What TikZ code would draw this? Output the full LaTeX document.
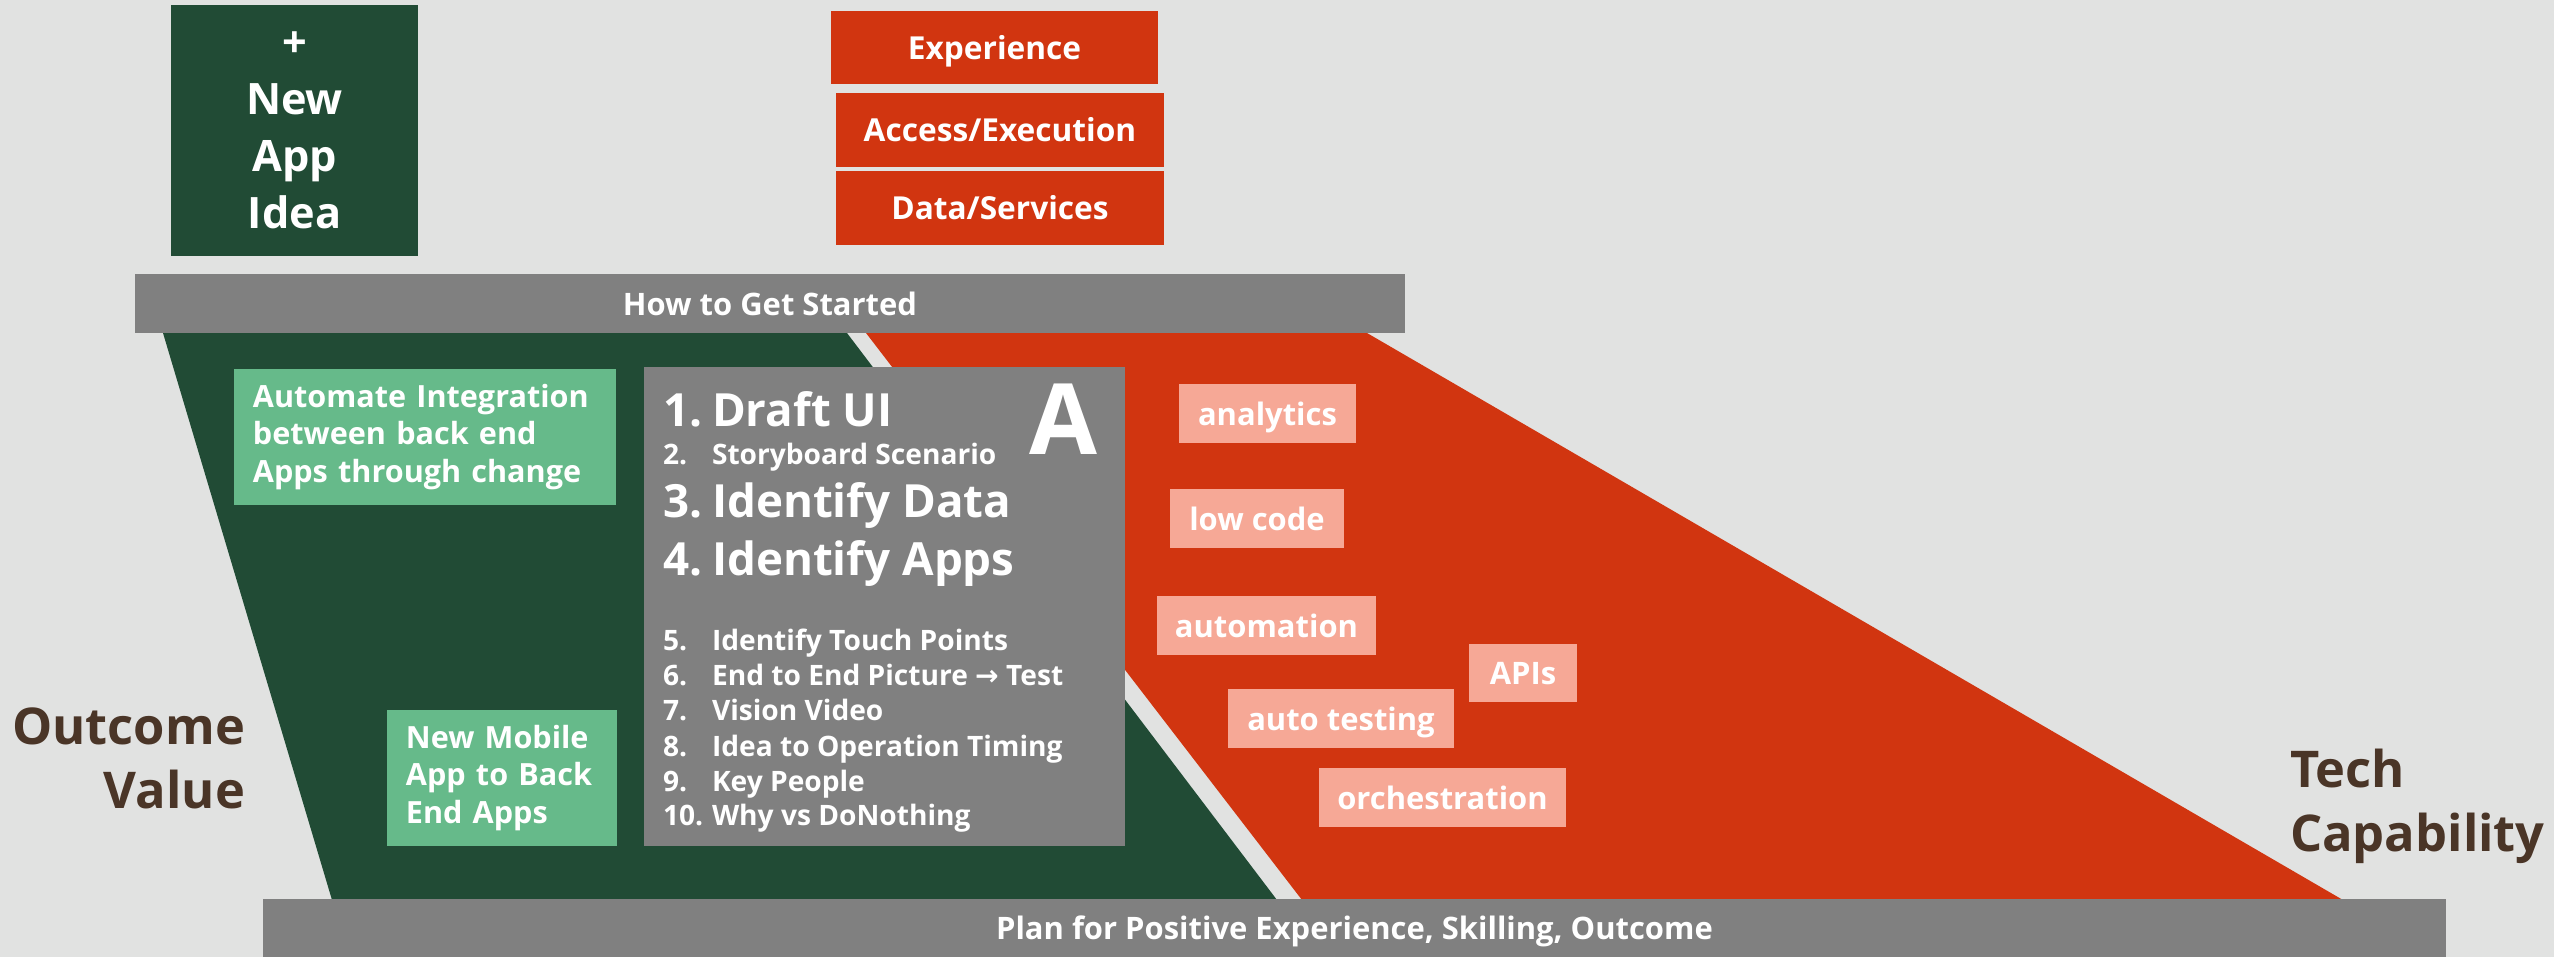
\documentclass[tikz,border=0pt]{standalone}
\usepackage{fontspec}
\setmainfont{Open Sans}
\newfontfamily\arrowfont{DejaVu Sans}
\definecolor{bggray}{RGB}{225,226,225}
\definecolor{darkgreen}{RGB}{33,75,53}
\definecolor{redorange}{RGB}{209,53,16}
\definecolor{midgray}{RGB}{128,128,128}
\definecolor{lightgreen}{RGB}{102,186,138}
\definecolor{salmon}{RGB}{246,168,150}
\definecolor{labelbrown}{RGB}{74,53,39}

\begin{document}
\begin{tikzpicture}[x=0.01cm, y=-0.01cm,
  every node/.style={inner sep=0pt, outer sep=0pt, text=white},
  redbox/.style={fill=redorange, minimum width=3.28cm, minimum height=0.74cm, text height=1.5ex, text depth=.25ex, font=\bfseries\fontsize{9}{11}\selectfont},
  barbox/.style={fill=midgray, minimum height=0.59cm, text height=1.5ex, text depth=.25ex, font=\bfseries\fontsize{8.8}{11}\selectfont},
  tagbox/.style={fill=salmon, minimum height=0.59cm, text height=1.5ex, text depth=.25ex, font=\bfseries\fontsize{8.8}{11}\selectfont},
  notebox/.style={fill=lightgreen, align=left, minimum height=1.36cm, inner xsep=0.19cm, font=\bfseries\fontsize{8.7}{10.7}\selectfont},
  listbig/.style={anchor=base west, font=\bfseries\fontsize{13}{15}\selectfont},
  listsmall/.style={anchor=base west, font=\bfseries\fontsize{8}{10}\selectfont},
  sidelabel/.style={text=labelbrown, font=\bfseries\fontsize{14.4}{18.2}\selectfont}]
\useasboundingbox (0,0) rectangle (2554,957);
\fill[bggray] (0,0) rectangle (2554,957);

% the two slopes
\fill[darkgreen] (163,333) -- (847,333) -- (1277,900) -- (332,900) -- cycle;
\fill[redorange] (866,333) -- (1367,333) -- (2343,900) -- (1302,900) -- cycle;

\node[fill=darkgreen, minimum width=2.47cm, minimum height=2.51cm, align=center, font=\bfseries\fontsize{12.3}{16.2}\selectfont] (idea) at (294.5,130.5) {+\\New\\App\\Idea};

\node[redbox, minimum width=3.27cm, minimum height=0.73cm] (experience) at (994.5,47.5) {Experience};
\node[redbox] (access) at (1000,130) {Access/Execution};
\node[redbox] (data) at (1000,208) {Data/Services};

\node[barbox, minimum width=12.70cm] (start) at (770,303.5) {How to Get Started};
\node[barbox, minimum width=21.81cm, minimum height=0.58cm] (plan) at (1354.5,928) {Plan for Positive Experience, Skilling, Outcome};

\node[notebox, text width=3.44cm] (integration) at (425,437) {Automate Integration\\between back end\\Apps through change};
\node[notebox, text width=1.92cm] (mobile) at (502,778) {New Mobile\\App to Back\\End Apps};

% steps
\node[fill=midgray, minimum width=4.81cm, minimum height=4.79cm] (steps) at (884.5,606.5) {};
\node[anchor=base, font=\bfseries\fontsize{28}{30}\selectfont] (letter) at (1063,454) {A};
\node[listbig] (step1) at (663,426) {\makebox[0.49cm][l]{1.}Draft UI};
\node[listsmall] (step2) at (663,464) {\makebox[0.49cm][l]{2.}Storyboard Scenario};
\node[listbig] (step3) at (663,517) {\makebox[0.49cm][l]{3.}Identify Data};
\node[listbig] (step4) at (663,575) {\makebox[0.49cm][l]{4.}Identify Apps};
\node[listsmall] (step5) at (663,650) {\makebox[0.49cm][l]{5.}Identify Touch Points};
\node[listsmall] (step6) at (663,685) {\makebox[0.49cm][l]{6.}End to End Picture {\arrowfont\bfseries →} Test};
\node[listsmall] (step7) at (663,720) {\makebox[0.49cm][l]{7.}Vision Video};
\node[listsmall] (step8) at (663,756) {\makebox[0.49cm][l]{8.}Idea to Operation Timing};
\node[listsmall] (step9) at (663,791) {\makebox[0.49cm][l]{9.}Key People};
\node[listsmall] (step10) at (663,825) {\makebox[0.49cm][l]{10.}Why vs DoNothing};

% tech tags
\node[tagbox, minimum width=1.77cm] (analytics) at (1267.5,413.5) {analytics};
\node[tagbox, minimum width=1.74cm] (lowcode) at (1257,518.5) {low code};
\node[tagbox, minimum width=2.19cm] (automation) at (1266.5,625.5) {automation};
\node[tagbox, minimum width=1.08cm, minimum height=0.58cm] (apis) at (1523,673) {APIs};
\node[tagbox, minimum width=2.26cm] (autotesting) at (1341,718.5) {auto testing};
\node[tagbox, minimum width=2.47cm] (orchestration) at (1442.5,797.5) {orchestration};

\node[sidelabel, anchor=east, align=right] (outcome) at (245,758) {Outcome\\Value};
\node[sidelabel, anchor=west, align=left] (tech) at (2290,806) {Tech\\Capability};
\end{tikzpicture}
\end{document}
